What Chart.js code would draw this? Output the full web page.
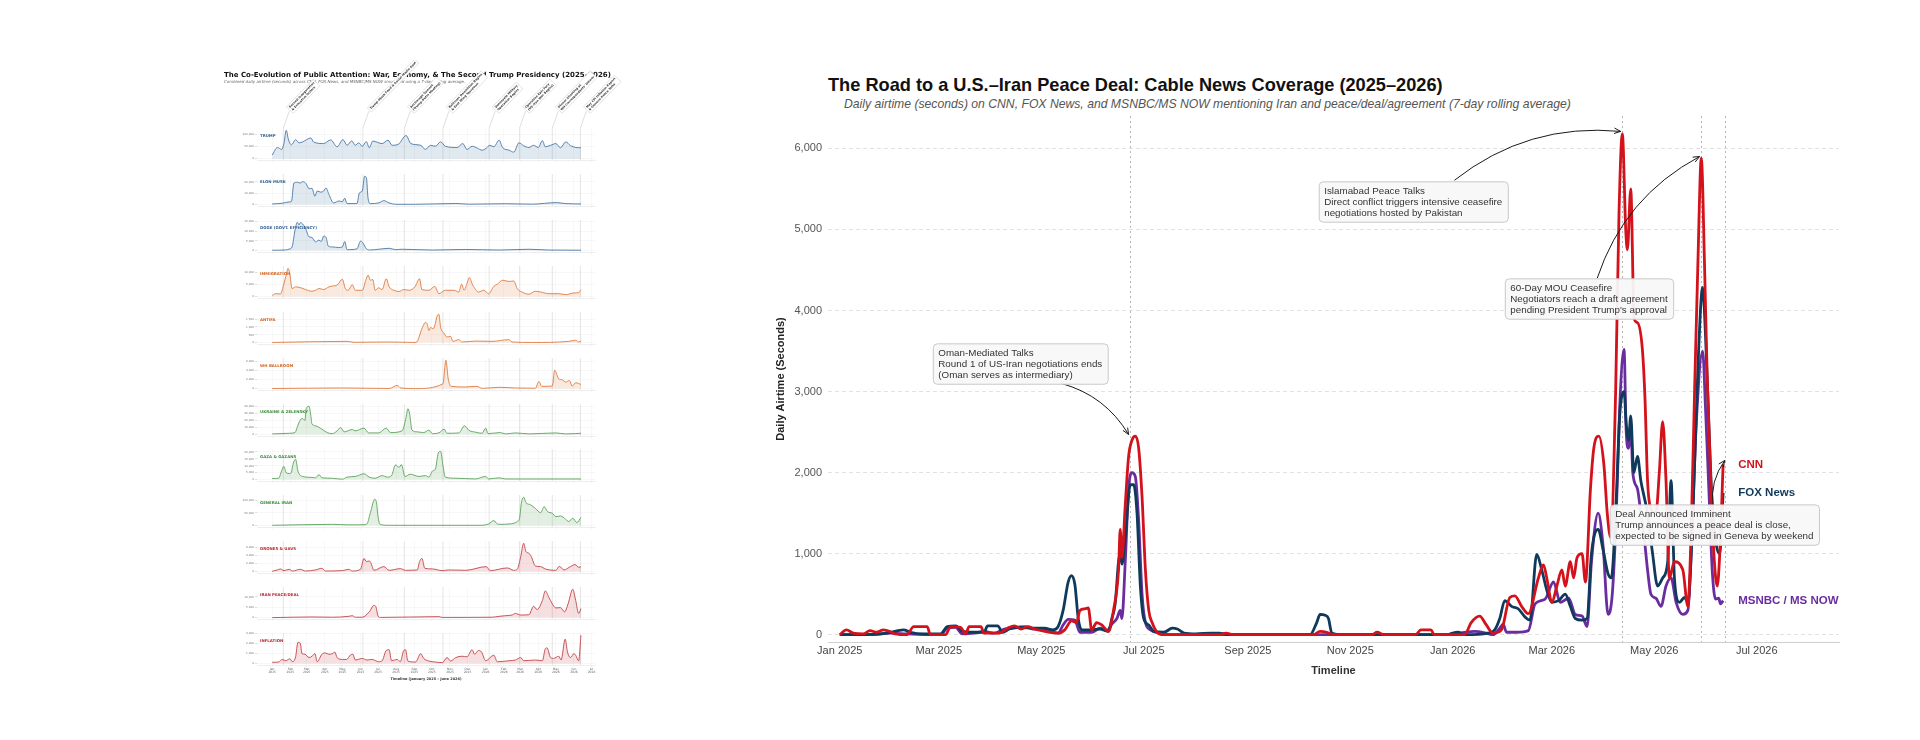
<!DOCTYPE html>
<html>
<head>
<meta charset="utf-8">
<script src="https://cdn.jsdelivr.net/npm/chart.js@4.4.1/dist/chart.umd.min.js"></script>
<style>
  html, body { margin: 0; padding: 0; background: #fff; width: 1920px; height: 740px; overflow: hidden; }
  .box { position: absolute; }
  #mainTitle { left: 828px; top: 75px; font: bold 18.2px "Liberation Sans", Arial, sans-serif; color: #111; white-space: nowrap; }
  #mainSub { left: 844px; top: 97px; font: italic 12.2px "Liberation Sans", Arial, sans-serif; color: #555; white-space: nowrap; }
</style>
</head>
<body>
<div id="mainTitle" class="box">The Road to a U.S.–Iran Peace Deal: Cable News Coverage (2025–2026)</div>
<div id="mainSub" class="box">Daily airtime (seconds) on CNN, FOX News, and MSNBC/MS NOW mentioning Iran and peace/deal/agreement (7-day rolling average)</div>
<div id="mainWrap" class="box" style="left:760px;top:100px;width:1110px;height:590px;"><canvas id="mainChart"></canvas></div>
<div id="smallWrap"></div>

<script>
// ---- data: x = days since 2025-01-01, y = seconds of airtime ----
const mainTickDates = ['2025-01-01','2025-03-01','2025-05-01','2025-07-01','2025-09-01','2025-11-01','2026-01-01','2026-03-01','2026-05-01','2026-07-01'];
const mainTickLabels = ['Jan 2025','Mar 2025','May 2025','Jul 2025','Sep 2025','Nov 2025','Jan 2026','Mar 2026','May 2026','Jul 2026'];
const mainEventDates = ['2025-06-23','2026-04-12','2026-05-29','2026-06-12'];
const seriesNames = ['CNN', 'FOX News', 'MSNBC / MS NOW'];

const cnnPoints = [[0,0],[4,60],[8,20],[14,10],[18,50],[22,30],[26,60],[30,40],[33,10],[40,0],[44,100],[52,100],[54,0],[63,0],[66,100],[72,90],[75,10],[77,100],[84,100],[86,20],[95,20],[100,80],[104,110],[108,70],[112,100],[116,70],[120,50],[125,30],[130,20],[134,60],[138,170],[141,150],[143,300],[146,320],[148,330],[150,60],[153,150],[156,120],[160,40],[163,300],[166,800],[167,1300],[168,950],[170,1600],[172,2200],[174,2400],[176,2450],[178,2300],[180,1700],[182,800],[184,300],[186,150],[189,30],[193,0],[226,0],[230,20],[234,0],[282,0],[286,40],[290,30],[294,0],[317,0],[320,30],[324,0],[343,0],[346,60],[352,60],[354,0],[372,0],[376,150],[381,230],[385,120],[389,20],[394,60],[399,460],[402,480],[406,350],[410,260],[416,700],[419,860],[421,700],[424,400],[427,600],[430,800],[432,600],[435,900],[437,700],[439,950],[442,1000],[444,650],[447,1800],[449,2300],[452,2450],[455,2100],[457,1500],[459,1200],[462,3000],[464,5200],[466,6180],[468,5000],[469,4750],[471,5500],[473,3900],[475,3850],[478,3500],[479.5,2900],[481,1900],[483,1550],[486,1500],[488,2000],[490,2630],[492,1900],[494,700],[497,900],[502,800],[505,350],[507,1300],[509,3000],[511,4600],[513,5880],[515,4500],[516.5,3200],[518.5,2000],[520.5,1000],[522.5,600],[524,1000],[526,2100]];
const foxPoints = [[0,0],[10,0],[28,20],[38,60],[42,30],[50,10],[60,10],[64,100],[69,110],[73,40],[80,30],[86,30],[88,110],[94,110],[97,30],[101,70],[108,90],[115,80],[122,80],[127,60],[130,100],[133,300],[136,650],[138,730],[140,620],[142,200],[144,60],[150,60],[155,70],[160,40],[162,200],[164,380],[166,900],[167,1000],[168,870],[170,1200],[173,1850],[175,1850],[177,1500],[179,600],[181,200],[184,120],[187,40],[193,30],[198,80],[201,70],[205,20],[212,10],[221,20],[226,20],[232,0],[280,0],[284,150],[286,250],[289,240],[291,200],[293,20],[300,0],[362,0],[365,20],[368,30],[372,0],[386,20],[390,60],[393,200],[396,420],[400,350],[404,320],[408,220],[411,180],[415,990],[418,800],[421,550],[424,400],[428,420],[432,500],[435,350],[438,200],[442,180],[445,200],[447.6,1000],[451.6,1300],[454.5,1050],[457.5,750],[459.4,700],[462.4,1700],[464.4,2700],[467,3000],[468.3,2600],[469.7,2400],[471,2700],[472.8,2000],[475,2200],[477,1900],[479,1700],[481,1500],[484,1000],[487,600],[490,700],[493,900],[495,1900],[497,700],[500,400],[503,460],[505,400],[508,1500],[511,3300],[513.8,4285],[515.5,3700],[517.5,2600],[519.5,1600],[522,1100],[524,1000],[526,1750]];
const msnbcPoints = [[0,0],[20,0],[30,20],[40,10],[55,0],[60,0],[64,80],[69,90],[73,10],[80,20],[86,40],[92,20],[98,70],[104,90],[110,100],[115,70],[120,70],[125,40],[130,20],[133,120],[136,190],[140,180],[143,30],[150,30],[155,80],[159,50],[162,130],[165,200],[167,300],[168,200],[170,900],[172,1800],[174,2000],[176,1950],[178,1400],[180,500],[182,150],[185,60],[190,20],[195,0],[362,0],[365,10],[372,30],[378,40],[385,20],[389,0],[393,80],[395,130],[397,30],[403,30],[410,50],[414,380],[420,440],[425,650],[429,400],[434,450],[438,250],[442,230],[445,100],[447.6,900],[451.6,1500],[454.5,1100],[457.5,250],[460,500],[462.4,1500],[464.4,2800],[467,3520],[468.3,2500],[469.7,2300],[471,2600],[472.2,2000],[475,1800],[477,1500],[479,1200],[481,800],[483,500],[486,450],[489,350],[492,600],[495,700],[498,400],[502,250],[505,300],[507,1000],[510,2600],[513.8,3500],[515.5,2800],[517.5,1800],[519.5,800],[521.5,440],[523.4,450],[524.4,380],[526,420]];

// small multiples (combined airtime, all three networks)
const trumpSeries = [[0,15000],[9,46000],[16,38000],[20,62000],[24,116000],[28,76000],[33,57000],[40,78000],[46,65000],[52,69000],[66,85000],[71,68000],[88,62000],[100,77000],[111,49000],[121,78000],[128,55000],[136,73000],[142,55000],[148,65000],[154,51000],[161,70000],[166,45000],[172,72000],[188,62000],[198,76000],[205,55000],[215,58000],[229,95000],[237,62000],[254,55000],[262,38000],[271,55000],[279,51000],[288,69000],[296,51000],[316,46000],[326,62000],[333,38000],[342,51000],[351,43000],[359,35000],[366,43000],[372,55000],[379,49000],[388,76000],[394,46000],[405,35000],[413,27000],[422,65000],[430,53000],[439,46000],[447,55000],[455,46000],[462,74000],[467,49000],[476,55000],[485,62000],[493,45000],[502,69000],[510,54000],[519,46000],[528,45000]];
const muskSeries = [[0,600],[17,1200],[29,2400],[33,2900],[37,19000],[43,19700],[48,19000],[52,20300],[58,18500],[63,14000],[68,14400],[73,7400],[77,12000],[83,11000],[88,12000],[92,14700],[97,9000],[105,1500],[114,3200],[120,2600],[124,5600],[128,900],[145,900],[149,10300],[154,12000],[158,25000],[161,23800],[164,5300],[168,900],[182,1500],[191,3500],[200,1500],[211,300],[245,300],[314,1000],[336,400],[399,800],[445,400],[486,1800],[502,900],[528,600]];
const dogeSeries = [[0,200],[23,350],[30,900],[34,1900],[39,10600],[43,14600],[46,13200],[48,14400],[52,13700],[57,11500],[63,7100],[68,6800],[74,4500],[80,5400],[84,4700],[88,7500],[92,6800],[96,2300],[103,1900],[114,1600],[120,1900],[124,4700],[128,500],[145,900],[151,4900],[155,4000],[161,1000],[168,350],[182,700],[200,1200],[211,500],[222,700],[274,300],[331,600],[388,300],[439,700],[473,300],[528,200]];
const immigrationSeries = [[0,500],[6,1200],[14,1100],[20,5300],[24,8800],[27,11600],[30,9500],[34,3300],[40,4000],[48,3700],[57,2900],[68,2200],[74,2600],[80,3300],[88,2900],[97,4000],[105,4400],[111,4700],[120,7100],[125,3300],[130,2600],[137,4900],[142,2600],[154,2600],[160,6700],[164,8800],[168,6700],[172,7000],[176,2600],[182,3600],[188,2900],[195,7300],[200,4000],[208,2600],[217,2100],[225,2900],[234,2600],[244,4000],[252,7300],[256,2900],[268,2600],[278,4200],[285,1200],[296,2600],[311,2600],[319,1900],[324,5100],[328,2600],[333,5300],[337,7800],[343,4700],[353,1900],[362,2600],[370,1200],[379,4200],[385,5100],[394,6700],[405,6200],[413,6400],[419,3300],[427,1900],[439,1000],[450,2200],[459,1900],[473,1200],[490,1200],[502,800],[516,1500],[524,1600],[528,2900]];
const antifaSeries = [[0,10],[128,80],[140,20],[200,40],[246,10],[257,980],[262,1290],[265,1190],[268,770],[271,980],[275,870],[278,1080],[282,1700],[285,1810],[288,980],[294,600],[299,350],[305,400],[309,80],[319,190],[325,40],[348,100],[376,80],[405,190],[410,40],[445,10],[507,80],[519,150],[524,40],[528,100]];
const ballroomSeries = [[0,20],[120,140],[200,30],[214,700],[220,140],[245,0],[292,1070],[297,6200],[301,2140],[306,500],[330,360],[350,500],[359,50],[388,290],[416,140],[450,80],[456,1570],[461,500],[479,570],[483,4000],[490,2140],[496,1930],[502,1430],[508,1790],[513,570],[519,1290],[528,930]];
const ukraineSeries = [[0,1000],[29,1900],[39,2900],[43,11000],[48,20700],[52,22700],[56,20000],[58,36600],[63,40000],[66,27000],[68,15000],[74,12500],[85,7700],[94,2900],[103,1400],[111,5300],[117,10000],[123,3900],[137,7200],[142,5300],[157,9200],[165,2400],[182,2400],[195,9200],[202,2900],[222,5300],[229,24600],[232,36600],[235,29400],[239,6300],[248,3900],[259,2900],[268,6300],[274,1400],[285,2400],[294,7700],[299,1900],[319,2400],[329,12500],[336,6300],[348,3400],[359,1900],[365,9200],[369,1400],[390,2900],[399,1000],[416,2400],[439,1000],[485,2400],[502,1000],[519,1500],[528,1900]];
const gazaSeries = [[0,800],[11,1000],[16,6200],[20,9600],[24,4900],[30,4400],[33,5500],[35,10100],[40,14800],[44,6200],[52,2300],[68,1600],[74,1300],[80,3600],[85,1300],[103,1000],[120,300],[128,1800],[142,2300],[157,4200],[166,1800],[176,1000],[188,2900],[197,1800],[204,2900],[211,10700],[217,8800],[221,10900],[227,2300],[236,3900],[251,2300],[262,2900],[268,1800],[274,6200],[279,7500],[284,19200],[288,20500],[292,10100],[296,1800],[314,1000],[348,500],[365,2300],[370,500],[388,1300],[399,500],[528,500]];
const iranSeries = [[0,1300],[103,5000],[131,3000],[160,4000],[164,16000],[166,35500],[170,68000],[172,88000],[175,104000],[178,95000],[181,35000],[185,4000],[200,1300],[359,1300],[370,6600],[379,20000],[385,6600],[393,5000],[405,6600],[413,9000],[419,16000],[423,29000],[426,88000],[430,112000],[434,91000],[442,82000],[450,68000],[459,51000],[465,75000],[471,55000],[479,49000],[485,35500],[493,38000],[502,25000],[507,16000],[514,29000],[521,12000],[528,32000]];
const dronesSeries = [[0,80],[9,420],[14,670],[20,250],[29,580],[35,150],[48,580],[57,150],[74,420],[85,830],[91,150],[120,250],[131,580],[137,150],[151,580],[157,3300],[161,2500],[166,2660],[169,2080],[174,330],[191,1250],[200,330],[219,750],[228,330],[248,420],[252,2500],[256,3300],[261,830],[274,670],[291,250],[302,420],[331,330],[366,1250],[373,250],[402,920],[413,330],[419,580],[425,3750],[430,7080],[434,5000],[439,4580],[443,3750],[450,1420],[459,1250],[467,670],[485,330],[491,1330],[499,420],[508,1080],[518,1750],[524,1080],[528,1170]];
const peaceSeries = [[0,0],[68,310],[103,200],[131,620],[137,940],[142,200],[154,200],[166,2800],[174,5900],[177,5460],[181,780],[185,100],[285,470],[291,100],[376,200],[388,620],[399,940],[410,1250],[416,2000],[425,1250],[439,1400],[447,5460],[453,3900],[462,8270],[467,12900],[473,9830],[479,6700],[485,4680],[493,4840],[500,2800],[506,6700],[514,13700],[519,8270],[524,2030],[528,4370]];
const inflationSeries = [[0,130],[11,160],[17,420],[23,290],[30,480],[35,190],[40,680],[44,2130],[48,2030],[51,1000],[56,940],[63,610],[68,740],[73,1000],[77,190],[85,940],[91,1070],[97,940],[103,1000],[107,1160],[111,610],[120,420],[127,420],[134,870],[138,940],[142,360],[154,520],[162,360],[171,420],[177,290],[182,190],[188,290],[195,1320],[200,1390],[204,290],[214,420],[219,190],[225,1320],[228,1390],[232,260],[245,160],[254,1000],[259,520],[268,260],[279,160],[291,100],[299,610],[305,260],[314,610],[325,740],[333,680],[342,1390],[346,940],[353,1320],[358,1160],[365,290],[379,840],[385,190],[405,290],[416,360],[425,610],[430,290],[450,360],[462,290],[467,1490],[470,1580],[476,610],[481,520],[490,740],[494,360],[501,2450],[505,1160],[510,610],[516,1000],[519,840],[524,290],[528,2840]];

const smallMonthDates = ['2025-01-01','2025-02-01','2025-03-01','2025-04-01','2025-05-01','2025-06-01','2025-07-01','2025-08-01','2025-09-01','2025-10-01','2025-11-01','2025-12-01','2026-01-01','2026-02-01','2026-03-01','2026-04-01','2026-05-01','2026-06-01','2026-07-01'];
const smallMonthLabels = [['Jan','2025'],['Feb','2025'],['Mar','2025'],['Apr','2025'],['May','2025'],['Jun','2025'],['Jul','2025'],['Aug','2025'],['Sep','2025'],['Oct','2025'],['Nov','2025'],['Dec','2025'],['Jan','2026'],['Feb','2026'],['Mar','2026'],['Apr','2026'],['May','2026'],['Jun','2026'],['Jul','2026']];
const smallEventDates = ['2025-01-20','2025-06-05','2025-08-15','2025-10-20','2026-01-07','2026-02-28','2026-04-25','2026-06-12'];
const smallEventLabels = [
  ['Second Inauguration', '& Executive Orders'],
  ['Trump–Musk Feud & Social Media Spat'],
  ['Anchorage Summit', '(Trump–Putin Meeting)'],
  ['Ballroom Demolition Begins', '& East Wing Teardown'],
  ['Venezuela Military', 'Operation Begins'],
  ['Operation Epic Fury', '(US–Iran War Begins)'],
  ['Dinner Shooting at', 'WH Correspondents\' Dinner'],
  ['May CPI Inflation Report', '& Geneva Peace Talks']
];

// ---- helpers ----
const DAY0 = Date.UTC(2025, 0, 1);
function dayOf(s) {
  const [y, m, d] = s.split('-').map(Number);
  return (Date.UTC(y, m - 1, d) - DAY0) / 86400000;
}
const toXY = pts => pts.map(([x, y]) => ({x: x, y: y}));

// ---- main chart ----
const mainColors = ['#d3121b', '#0f3a5c', '#6a2da0'];
const mainNotes = [
  {lines: ['Oman-Mediated Talks', 'Round 1 of US-Iran negotiations ends', '(Oman serves as intermediary)'], box: [55.4, 3595], from: [132, 3100], tip: [172, 2470]},
  {lines: ['Islamabad Peace Talks', 'Direct conflict triggers intensive ceasefire', 'negotiations hosted by Pakistan'], box: [285.2, 5594], from: [366, 5607], tip: [465, 6210]},
  {lines: ['60-Day MOU Ceasefire', 'Negotiators reach a draft agreement', 'pending President Trump\'s approval'], box: [396, 4397], from: [451, 4397], tip: [512, 5900]},
  {lines: ['Deal Announced Imminent', 'Trump announces a peace deal is close,', 'expected to be signed in Geneva by weekend'], box: [458.5, 1608], from: [520, 1585], tip: [527, 2150]}
];

function drawArrow(ctx, x1, y1, x2, y2, rad) {
  const mx = (x1 + x2) / 2, my = (y1 + y2) / 2;
  const cx = mx + rad * (y2 - y1), cy = my - rad * (x2 - x1);
  ctx.beginPath();
  ctx.moveTo(x1, y1);
  ctx.quadraticCurveTo(cx, cy, x2, y2);
  ctx.stroke();
  const ang = Math.atan2(y2 - cy, x2 - cx);
  ctx.beginPath();
  ctx.moveTo(x2 - 7 * Math.cos(ang - 0.4), y2 - 7 * Math.sin(ang - 0.4));
  ctx.lineTo(x2, y2);
  ctx.lineTo(x2 - 7 * Math.cos(ang + 0.4), y2 - 7 * Math.sin(ang + 0.4));
  ctx.stroke();
}

const mainOverlay = {
  id: 'mainOverlay',
  beforeDatasetsDraw(chart) {
    const {ctx, chartArea: {top, bottom}, scales: {x}} = chart;
    ctx.save();
    ctx.strokeStyle = '#b5b5b5';
    ctx.lineWidth = 1;
    ctx.setLineDash([2, 3]);
    mainEventDates.forEach(d => {
      const px = Math.round(x.getPixelForValue(dayOf(d))) + 0.5;
      ctx.beginPath(); ctx.moveTo(px, top); ctx.lineTo(px, bottom); ctx.stroke();
    });
    ctx.restore();
  },
  afterDatasetsDraw(chart) {
    const {ctx, scales: {x, y}} = chart;
    ctx.save();
    // end-of-line labels
    ctx.font = 'bold 11.5px "Liberation Sans", Arial, sans-serif';
    ctx.textBaseline = 'middle';
    chart.data.datasets.forEach((ds, i) => {
      const last = ds.data[ds.data.length - 1];
      ctx.fillStyle = mainColors[i];
      ctx.fillText(seriesNames[i], x.getPixelForValue(last.x + 9), y.getPixelForValue(last.y));
    });
    // annotation arrows + boxes
    ctx.font = '9.8px "Liberation Sans", Arial, sans-serif';
    mainNotes.forEach(n => {
      ctx.strokeStyle = '#1a1a1a';
      ctx.lineWidth = 1;
      drawArrow(ctx, x.getPixelForValue(n.from[0]), y.getPixelForValue(n.from[1]),
                x.getPixelForValue(n.tip[0]), y.getPixelForValue(n.tip[1]), 0.2);
      const bx = x.getPixelForValue(n.box[0]), by = y.getPixelForValue(n.box[1]);
      const w = Math.max(...n.lines.map(l => ctx.measureText(l).width)) + 11;
      const h = n.lines.length * 10.8 + 8;
      ctx.beginPath();
      ctx.roundRect(bx + 0.5, by + 0.5, w, h, 4);
      ctx.fillStyle = 'rgba(248,248,248,0.95)';
      ctx.fill();
      ctx.strokeStyle = '#c9c9c9';
      ctx.stroke();
      ctx.fillStyle = '#333';
      ctx.textBaseline = 'middle';
      n.lines.forEach((l, k) => ctx.fillText(l, bx + 5.5, by + 4.5 + 10.8 * k + 5.6));
    });
    ctx.restore();
  }
};

new Chart(document.getElementById('mainChart'), {
  type: 'line',
  data: {
    datasets: [cnnPoints, foxPoints, msnbcPoints].map((pts, i) => ({
      label: seriesNames[i],
      data: toXY(pts),
      borderColor: mainColors[i],
      borderWidth: 2.8,
      pointRadius: 0,
      fill: false,
      cubicInterpolationMode: 'monotone'
    }))
  },
  options: {
    responsive: true,
    maintainAspectRatio: false,
    animation: false,
    layout: {padding: {top: 16, right: 31, left: 0, bottom: 0}},
    plugins: {legend: {display: false}, tooltip: {enabled: false}},
    scales: {
      x: {
        type: 'linear',
        min: -7, max: 595,
        afterBuildTicks: s => { s.ticks = mainTickDates.map(d => ({value: dayOf(d)})); },
        afterFit: s => { s.height = 48; },
        ticks: {
          autoSkip: false, maxRotation: 0, padding: 2, color: '#444',
          font: {family: '"Liberation Sans", Arial, sans-serif', size: 11},
          callback: (v, i) => mainTickLabels[i]
        },
        grid: {display: false, drawTicks: false},
        border: {display: true, color: '#cfcfcf', width: 1},
        title: {display: true, text: 'Timeline', color: '#333', padding: {top: 0, bottom: 12.4},
                font: {family: '"Liberation Sans", Arial, sans-serif', size: 11, weight: 'bold'}}
      },
      y: {
        min: -90, max: 6400,
        afterBuildTicks: s => { s.ticks = [0, 1000, 2000, 3000, 4000, 5000, 6000].map(v => ({value: v})); },
        afterFit: s => { s.width = 68; },
        ticks: {
          padding: 6, color: '#555',
          font: {family: '"Liberation Sans", Arial, sans-serif', size: 11},
          callback: v => v.toLocaleString('en-US')
        },
        grid: {color: '#e2e2e2', lineWidth: 1, drawTicks: false},
        border: {display: false, dash: [4, 3]},
        title: {display: true, text: 'Daily Airtime (Seconds)', color: '#222', padding: {top: 14.4, bottom: 0},
                font: {family: '"Liberation Sans", Arial, sans-serif', size: 11, weight: 'bold'}}
      }
    }
  },
  plugins: [mainOverlay]
});

// ---- small multiples ----
const groupColors = {
  blue:   {line: '#4a77a8', fill: 'rgba(74,119,168,0.17)', text: '#2d5d90'},
  orange: {line: '#e07a3e', fill: 'rgba(224,122,62,0.17)', text: '#d2601c'},
  green:  {line: '#5ba35b', fill: 'rgba(91,163,91,0.17)',  text: '#3a8c3a'},
  red:    {line: '#c24449', fill: 'rgba(194,68,73,0.17)',  text: '#b3262c'}
};
const panels = [
  {name: 'TRUMP', group: 'blue', step: 50000, data: trumpSeries},
  {name: 'ELON MUSK', group: 'blue', step: 10000, data: muskSeries},
  {name: 'DOGE (GOVT. EFFICIENCY)', group: 'blue', step: 5000, data: dogeSeries},
  {name: 'IMMIGRATION', group: 'orange', step: 5000, data: immigrationSeries},
  {name: 'ANTIFA', group: 'orange', step: 500, data: antifaSeries},
  {name: 'WH BALLROOM', group: 'orange', step: 2000, data: ballroomSeries},
  {name: 'UKRAINE & ZELENSKY', group: 'green', step: 10000, data: ukraineSeries},
  {name: 'GAZA & GAZANS', group: 'green', step: 5000, data: gazaSeries},
  {name: 'GENERAL IRAN', group: 'green', step: 50000, data: iranSeries},
  {name: 'DRONES & UAVS', group: 'red', step: 2000, data: dronesSeries},
  {name: 'IRAN PEACE/DEAL', group: 'red', step: 5000, data: peaceSeries},
  {name: 'INFLATION', group: 'red', step: 1000, data: inflationSeries}
];
const SF = 'DejaVu Sans, Verdana, sans-serif';

const smallOverlay = {
  id: 'smallOverlay',
  beforeDatasetsDraw(chart, args, opts) {
    const {ctx, chartArea: {top, bottom}, scales: {x}} = chart;
    ctx.save();
    ctx.strokeStyle = '#d9d9d9';
    ctx.lineWidth = 0.7;
    smallEventDates.forEach(d => {
      const px = x.getPixelForValue(dayOf(d));
      ctx.beginPath(); ctx.moveTo(px, top); ctx.lineTo(px, bottom); ctx.stroke();
    });
    ctx.restore();
  },
  afterDatasetsDraw(chart, args, opts) {
    const {ctx, chartArea: {left, top}, scales: {x}} = chart;
    ctx.save();
    ctx.font = 'bold 3.9px ' + SF;
    ctx.fillStyle = opts.color;
    ctx.textBaseline = 'middle';
    ctx.fillText(opts.name, left + 3, top + 8);
    if (opts.first) {
      ctx.fillStyle = '#111';
      ctx.font = 'bold 7px ' + SF;
      ctx.fillText('The Co-Evolution of Public Attention: War, Economy, & The Second Trump Presidency (2025–2026)', 4, 15);
      ctx.fillStyle = '#666';
      ctx.font = 'italic 4px ' + SF;
      ctx.fillText('Combined daily airtime (seconds) across CNN, FOX News, and MSNBC/MS NOW smoothed using a 7-day rolling average.', 4, 21.7);
      ctx.font = 'bold 3px ' + SF;
      smallEventDates.forEach((d, i) => {
        const px = x.getPixelForValue(dayOf(d));
        ctx.strokeStyle = '#bdbdbd';
        ctx.lineWidth = 0.5;
        ctx.beginPath(); ctx.moveTo(px, top); ctx.lineTo(px + 6, top - 17); ctx.stroke();
        const lines = smallEventLabels[i];
        const w = Math.max(...lines.map(l => ctx.measureText(l).width)) + 3;
        const h = lines.length * 3.7 + 2;
        ctx.save();
        ctx.translate(px + 6.5, top - 18);
        ctx.rotate(-0.8);
        ctx.fillStyle = '#fff';
        ctx.strokeStyle = '#bbb';
        ctx.lineWidth = 0.4;
        ctx.beginPath(); ctx.rect(0, -h / 2, w, h); ctx.fill(); ctx.stroke();
        ctx.fillStyle = '#333';
        lines.forEach((l, k) => ctx.fillText(l, 1.5, -h / 2 + 2.85 + 3.7 * k));
        ctx.restore();
      });
    }
    ctx.restore();
  }
};

const smallWrap = document.getElementById('smallWrap');
panels.forEach((p, i) => {
  const zero = 158.7 + 45.9 * i;
  const areaTop = zero - 30.6;
  const first = i === 0, last = i === panels.length - 1;
  const canvasTop = first ? 60 : areaTop - 4;
  const padTop = areaTop - canvasTop;
  const bottomH = last ? 22 : 4;
  const h = padTop + 32 + bottomH;
  const div = document.createElement('div');
  div.style.cssText = `position:absolute;left:220px;top:${canvasTop}px;width:430px;height:${h}px;`;
  const cv = document.createElement('canvas');
  div.appendChild(cv);
  smallWrap.appendChild(div);
  const ymax = Math.max(...p.data.map(d => d[1])) * 1.08;
  const col = groupColors[p.group];
  new Chart(cv, {
    type: 'line',
    data: {datasets: [{
      data: toXY(p.data), borderColor: col.line, backgroundColor: col.fill, fill: 'origin',
      borderWidth: 0.9, pointRadius: 0, cubicInterpolationMode: 'monotone'
    }]},
    options: {
      responsive: true, maintainAspectRatio: false, animation: false,
      layout: {padding: {top: padTop, right: 55, left: 0, bottom: 0}},
      plugins: {
        legend: {display: false}, tooltip: {enabled: false},
        smallOverlay: {name: p.name, color: col.text, first: first}
      },
      scales: {
        x: {
          type: 'linear', min: -26, max: 552,
          afterBuildTicks: s => { s.ticks = smallMonthDates.map(d => ({value: dayOf(d)})); },
          afterFit: s => { s.height = bottomH; },
          ticks: {display: last, autoSkip: false, maxRotation: 0, padding: 0.5, color: '#666',
                  font: {family: SF, size: 3, lineHeight: 1.15}, callback: (v, k) => smallMonthLabels[k]},
          grid: {color: '#f0f0f0', lineWidth: 0.5, tickLength: 1.5, tickColor: '#c8c8c8'},
          border: {display: true, color: '#e2e2e2', width: 0.6},
          title: {display: last, text: 'Timeline (January 2025 – June 2026)', color: '#333',
                  padding: {top: 0, bottom: 5.6}, font: {family: SF, size: 3.5, weight: 'bold'}}
        },
        y: {
          min: -0.045 * ymax, max: ymax,
          afterBuildTicks: s => {
            const t = [];
            for (let v = 0; v <= ymax; v += p.step) t.push({value: v});
            s.ticks = t;
          },
          afterFit: s => { s.width = 37; },
          ticks: {padding: 1, color: '#777', font: {family: SF, size: 2.8}, callback: v => v.toLocaleString('en-US')},
          grid: {color: '#efefef', lineWidth: 0.5, tickLength: 2, tickColor: '#bbb'},
          border: {display: false}
        }
      }
    },
    plugins: [smallOverlay]
  });
});
</script>
</body>
</html>
